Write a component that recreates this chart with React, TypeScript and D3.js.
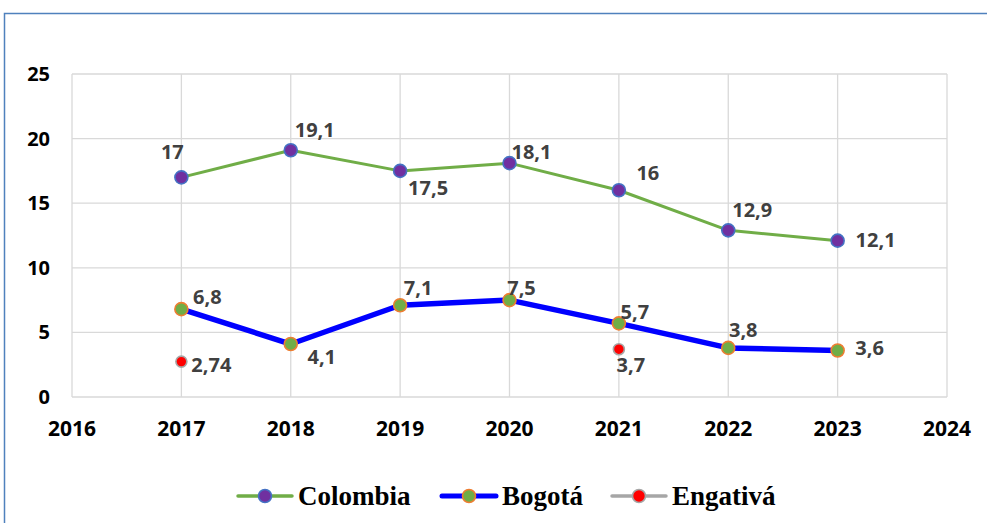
import { useEffect, useRef } from "react";
import * as d3 from "d3";

const years = [2017, 2018, 2019, 2020, 2021, 2022, 2023];
const colombia = [17, 19.1, 17.5, 18.1, 16, 12.9, 12.1];
const bogota = [6.8, 4.1, 7.1, 7.5, 5.7, 3.8, 3.6];
const engativaYears = [2017, 2021];
const engativa = [2.74, 3.7];
const xTicks = [2016, 2017, 2018, 2019, 2020, 2021, 2022, 2023, 2024];
const yTicks = [0, 5, 10, 15, 20, 25];

// label offsets (dx, baseline dy) from each point
const colombiaOffsets = [[-9, -18], [24, -13], [28, 24], [22, -4], [29, -10], [24, -13], [38, 6]];
const bogotaOffsets = [[26, -5], [31, 20], [18, -10], [12, -5], [16, -4], [15, -11], [32, 5]];
const engativaOffsets = [[30, 10], [12, 23]];

const fmt = (v: number) => String(v).replace(".", ",");

export default function App() {
  const ref = useRef<SVGSVGElement>(null);

  useEffect(() => {
    const svg = d3.select(ref.current);
    svg.selectAll("*").remove();

    const x = d3.scaleLinear().domain([2016, 2024]).range([72, 947]);
    const y = d3.scaleLinear().domain([0, 25]).range([397, 74]);

    // outer chart border
    svg.append("rect")
      .attr("x", 4.5).attr("y", 13.5)
      .attr("width", 1000).attr("height", 600)
      .attr("fill", "white")
      .attr("stroke", "#4f81bd").attr("stroke-width", 1.5);

    const grid = svg.append("g");
    grid.selectAll(".h").data(yTicks).join("line")
      .attr("x1", x(2016)).attr("x2", x(2024))
      .attr("y1", d => y(d)).attr("y2", d => y(d))
      .attr("stroke", "#d9d9d9").attr("stroke-width", 1.3);
    grid.selectAll(".v").data(xTicks).join("line")
      .attr("x1", d => x(d)).attr("x2", d => x(d))
      .attr("y1", y(0)).attr("y2", y(25))
      .attr("stroke", "#d9d9d9").attr("stroke-width", 1.3);

    const tickFont = "'Open Sans', Lato, sans-serif";
    svg.append("g").selectAll("text").data(yTicks).join("text")
      .attr("x", 50).attr("y", d => y(d) + 7)
      .attr("text-anchor", "end")
      .attr("font-family", tickFont).attr("font-weight", 700).attr("font-size", 20)
      .attr("fill", "#000").text(d => d);
    svg.append("g").selectAll("text").data(xTicks).join("text")
      .attr("x", d => x(d)).attr("y", 436)
      .attr("text-anchor", "middle")
      .attr("font-family", tickFont).attr("font-weight", 700).attr("font-size", 21)
      .attr("fill", "#000").text(d => d);

    const line = d3.line<[number, number]>().x(d => x(d[0])).y(d => y(d[1]));

    const drawSeries = (
      xs: number[], vals: number[], lineColor: string | null, lw: number,
      fill: string, stroke: string, r: number, offsets: number[][]
    ) => {
      const pts = xs.map((yr, i) => [yr, vals[i]] as [number, number]);
      const g = svg.append("g");
      if (lineColor) {
        g.append("path").attr("d", line(pts))
          .attr("fill", "none").attr("stroke", lineColor).attr("stroke-width", lw)
          .attr("stroke-linejoin", "round");
      }
      g.selectAll("circle").data(pts).join("circle")
        .attr("cx", d => x(d[0])).attr("cy", d => y(d[1])).attr("r", r)
        .attr("fill", fill).attr("stroke", stroke).attr("stroke-width", 1.6);
      g.selectAll("text").data(pts).join("text")
        .attr("x", (d, i) => x(d[0]) + offsets[i][0])
        .attr("y", (d, i) => y(d[1]) + offsets[i][1])
        .attr("text-anchor", "middle")
        .attr("font-family", tickFont).attr("font-weight", 700).attr("font-size", 20)
        .attr("fill", "#404040").text(d => fmt(d[1]));
    };

    drawSeries(years, colombia, "#70ad47", 3, "#7030a0", "#4472c4", 6.5, colombiaOffsets);
    drawSeries(years, bogota, "#0000ff", 5.5, "#70ad47", "#ed7d31", 6.5, bogotaOffsets);
    drawSeries(engativaYears, engativa, null, 0, "#ff0000", "#a6a6a6", 5.5, engativaOffsets);

    // legend
    const legend = [
      { name: "Colombia", line: "#70ad47", fill: "#7030a0", stroke: "#4472c4", x: 238, lw: 3.5 },
      { name: "Bogotá", line: "#0000ff", fill: "#70ad47", stroke: "#ed7d31", x: 442, lw: 5 },
      { name: "Engativá", line: "#a6a6a6", fill: "#ff0000", stroke: "#a6a6a6", x: 612, lw: 3.5 },
    ];
    const lg = svg.append("g").selectAll("g").data(legend).join("g")
      .attr("transform", d => `translate(${d.x},496)`);
    lg.append("line").attr("x1", 0).attr("x2", 54).attr("y1", 0).attr("y2", 0)
      .attr("stroke", d => d.line).attr("stroke-width", d => d.lw)
      .attr("stroke-linecap", "round");
    lg.append("circle").attr("cx", 27).attr("cy", 0).attr("r", 6.5)
      .attr("fill", d => d.fill).attr("stroke", d => d.stroke).attr("stroke-width", 1.6);
    lg.append("text").attr("x", 60).attr("y", 9)
      .attr("font-family", "'Liberation Serif', 'Times New Roman', serif")
      .attr("font-weight", 700).attr("font-size", 27)
      .attr("fill", "#000").text(d => d.name);
  }, []);

  return (
    <svg ref={ref} width={987} height={523}
      style={{ position: "absolute", left: 0, top: 0, background: "#fff" }} />
  );
}
